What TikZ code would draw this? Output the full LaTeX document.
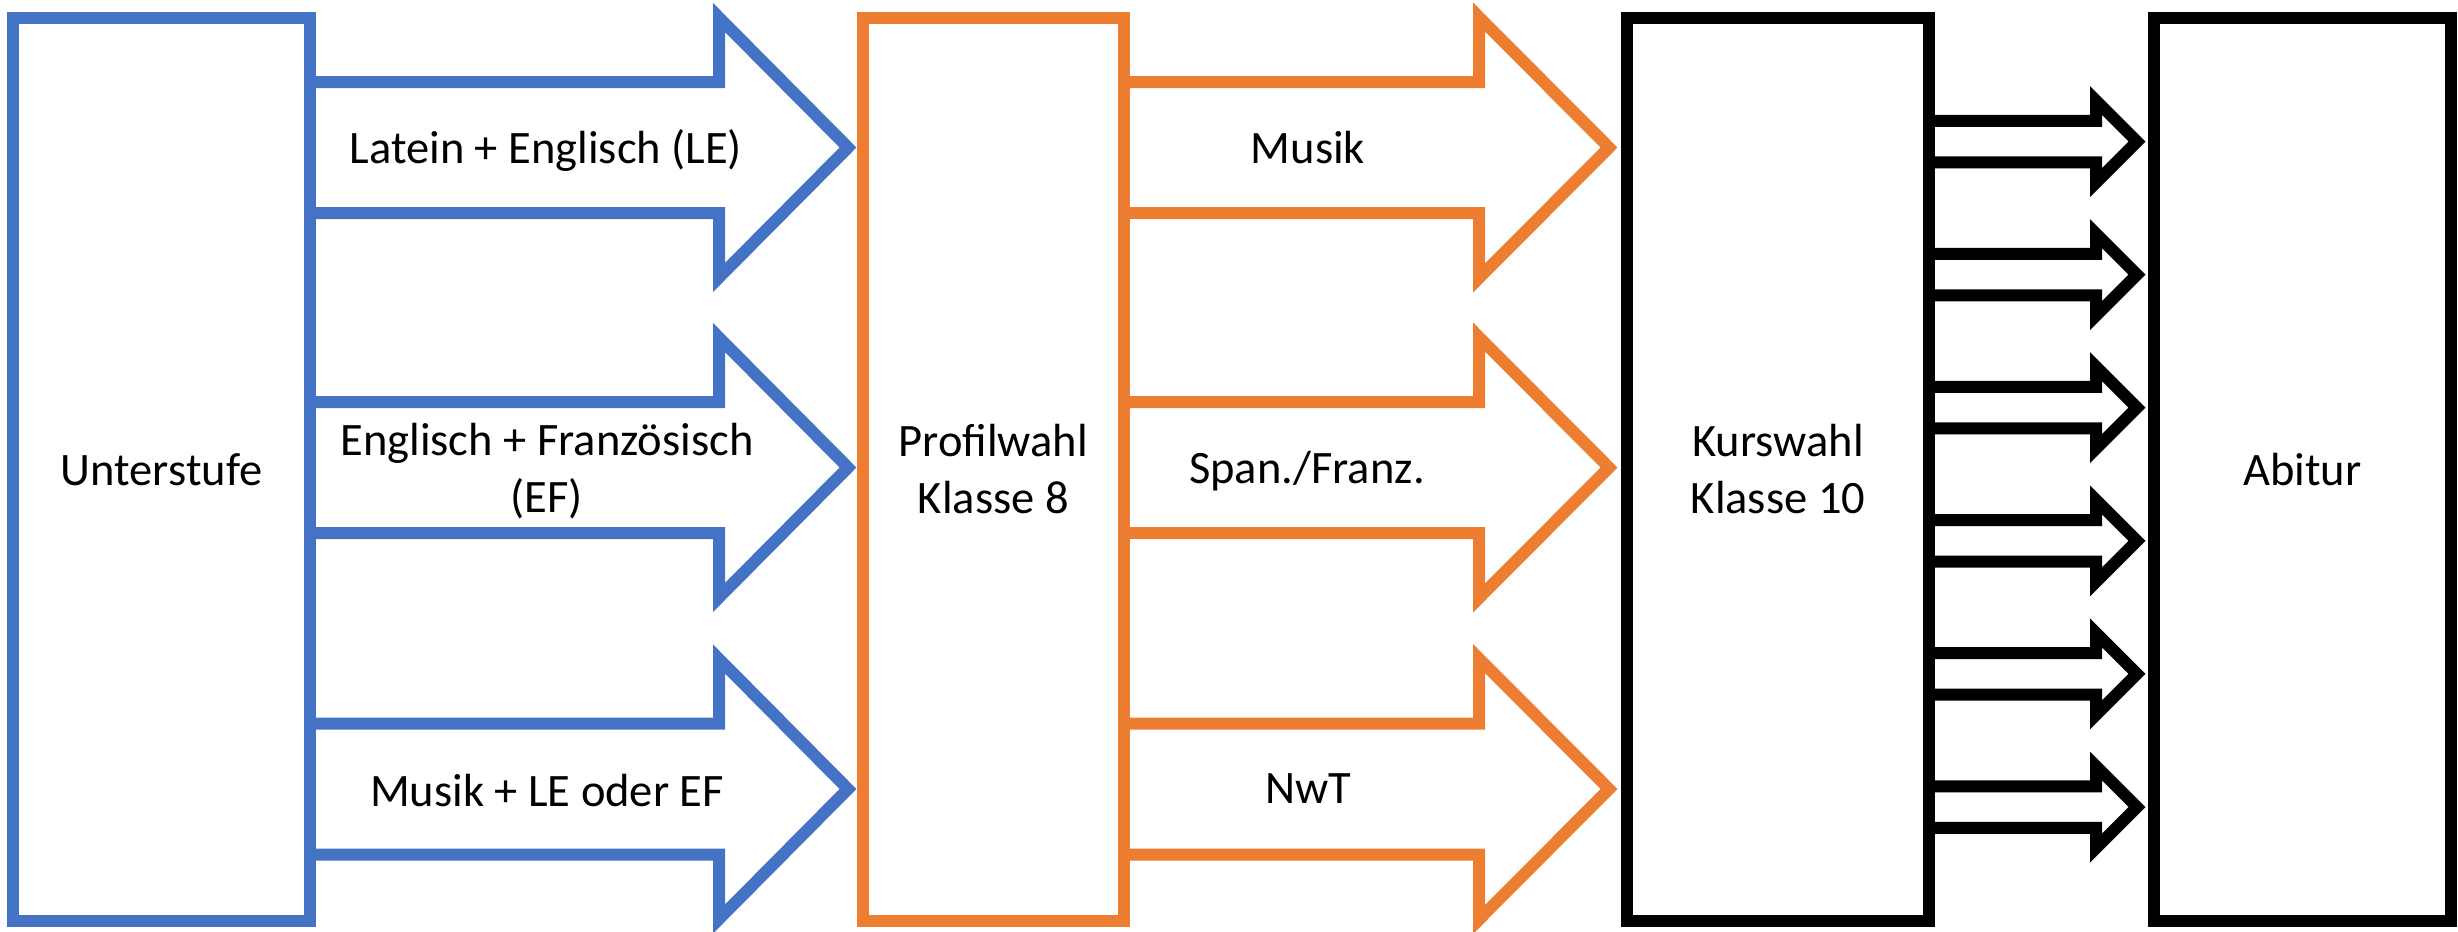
\documentclass[tikz,border=0pt]{standalone}
\usepackage{fontspec}
\setmainfont{Carlito}
\usetikzlibrary{positioning,calc}
\definecolor{offblue}{HTML}{4472C4}
\definecolor{offorange}{HTML}{ED7D31}

\begin{document}
\begin{tikzpicture}[x=0.1mm, y=-0.1mm,
        font=\fontsize{4.65mm}{5.7mm}\selectfont,
        stage_box/.style={rectangle, line width=1.2mm, outer sep=0pt, inner sep=0pt, minimum height=90.25mm, align=center},
        block_arrow/.style n args={4}{line width=1.2mm, line join=miter, to path={
            ($(\tikztostart)+(0,-#1)$) -- ($(\tikztotarget)+(-#4-#3,-#1)$) -- ($(\tikztotarget)+(-#4-#3,-#2)$)
            -- ($(\tikztotarget)+(-#4,0)$)
            -- ($(\tikztotarget)+(-#4-#3,#2)$) -- ($(\tikztotarget)+(-#4-#3,#1)$) -- ($(\tikztostart)+(0,#1)$)}},
        blue_arrow/.style={draw=offblue, block_arrow={65.5}{130}{129}{15}},
        orange_arrow/.style={draw=offorange, block_arrow={65.5}{130.5}{130}{18}},
        thin_arrow/.style={draw=black, block_arrow={20.75}{41}{41}{17}},
        arrow_label/.style={anchor=base, align=center},
        ]
            \useasboundingbox (0,0) rectangle (2458,931);

            % stages
            \node[stage_box, draw=offblue,   minimum width=29.7mm]  (box_unter)  at (161.5,469.25)      {Unterstufe};
            \node[stage_box, draw=offorange, minimum width=26.05mm] (box_profil) [right = 55.3mm of box_unter]  {Profilwahl\\Klasse 8};
            \node[stage_box, draw=black,     minimum width=30.2mm]  (box_kurs)   [right = 50.35mm of box_profil] {Kurswahl\\Klasse 10};
            \node[stage_box, draw=black,     minimum width=29.65mm] (box_abi)    [right = 22.5mm of box_kurs]    {Abitur};

            % rows of the big arrows
            \coordinate (row_1) at (0,147.5);
            \coordinate (row_2) at (0,467.5);
            \coordinate (row_3) at (0,789);

            % Unterstufe -> Profilwahl
            \draw[blue_arrow] (box_unter.east |- row_1) to (box_profil.west |- row_1);
            \draw[blue_arrow] (box_unter.east |- row_2) to (box_profil.west |- row_2);
            \draw[blue_arrow] (box_unter.east |- row_3) to (box_profil.west |- row_3);

            % Profilwahl -> Kurswahl
            \draw[orange_arrow] (box_profil.east |- row_1) to (box_kurs.west |- row_1);
            \draw[orange_arrow] (box_profil.east |- row_2) to (box_kurs.west |- row_2);
            \draw[orange_arrow] (box_profil.east |- row_3) to (box_kurs.west |- row_3);

            % Kurswahl -> Abitur
            \foreach \i/\y in {1/141.5, 2/274.6, 3/407.7, 4/540.8, 5/673.9, 6/807} {
                \coordinate (out_\i) at (0,\y);
                \draw[thin_arrow] (box_kurs.east |- out_\i) to (box_abi.west |- out_\i);
            }

            % labels
            \node[arrow_label]                (lbl_le)  at (546,163.3)  {Latein + Englisch (LE)};
            \node[arrow_label, anchor=center] (lbl_ef)  at (547,471)    {Englisch + Französisch\\(EF)};
            \node[arrow_label]                (lbl_mle) at (547,806.7)  {Musik + LE oder EF};
            \node[arrow_label]                (lbl_mus) at (1308,163.3) {Musik};
            \node[arrow_label]                (lbl_sf)  at (1307,483.3) {Span./Franz.};
            \node[arrow_label]                (lbl_nwt) at (1308,803.3) {NwT};

        \end{tikzpicture}
\end{document}
